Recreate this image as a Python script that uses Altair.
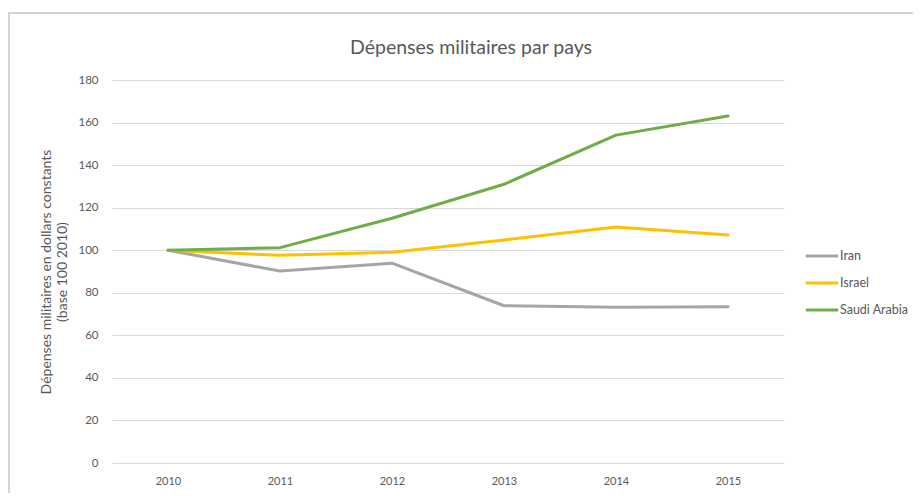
import altair as alt
import pandas as pd

years = ["2010", "2011", "2012", "2013", "2014", "2015"]
iran = [100, 90.2, 93.9, 73.9, 73.2, 73.4]
israel = [100, 97.6, 99.0, 104.8, 110.9, 107.1]
saudi = [100, 101.2, 115.0, 131.0, 154.1, 163.1]
countries = ["Iran", "Israel", "Saudi Arabia"]
colors = ["#a5a5a5", "#ffc000", "#70ad47"]
y_ticks = [0, 20, 40, 60, 80, 100, 120, 140, 160, 180]

rows = []
for name, vals in zip(countries, [iran, israel, saudi]):
    for yr, v in zip(years, vals):
        rows.append({"Année": yr, "Pays": name, "Valeur": v})
df = pd.DataFrame(rows)

FONT = "Lato"
TXT = "#595959"

lines = alt.Chart(df).mark_line(strokeWidth=3, strokeCap="round", strokeJoin="round").encode(
    x=alt.X("Année:O", sort=years, scale=alt.Scale(type="point", padding=0.5),
            axis=alt.Axis(title=None, labelAngle=0, ticks=False, domain=False,
                          labelPadding=12, labelFontSize=11, labelColor=TXT, labelFont=FONT)),
    y=alt.Y("Valeur:Q", scale=alt.Scale(domain=[0, 180], nice=False),
            axis=alt.Axis(values=y_ticks, title=["Dépenses militaires en dollars constants", "(base 100 2010)"],
                          titleFont=FONT, titleFontSize=14, titleFontWeight="normal", titleColor=TXT,
                          titlePadding=8, titleLineHeight=16,
                          ticks=False, domain=False, labelPadding=14, labelFontSize=11.5,
                          labelColor=TXT, labelFont=FONT, grid=True, gridColor="#d9d9d9", gridWidth=1)),
    color=alt.Color("Pays:N", scale=alt.Scale(domain=countries, range=colors),
                    legend=alt.Legend(title=None, orient="none", legendX=692, legendY=158,
                                      symbolType="stroke", symbolStrokeWidth=3, symbolSize=1050,
                                      labelFont=FONT, labelFontSize=12.5, labelColor=TXT,
                                      labelOffset=0, rowPadding=2)),
)

frame = alt.Chart(pd.DataFrame({"a": [0]})).mark_rect(
    fill=None, stroke="#c8c8c8", strokeWidth=1.5, clip=False
).encode(x=alt.value(-103), x2=alt.value(840), y=alt.value(-67), y2=alt.value(460))

chart = alt.layer(frame, lines).properties(
    width=672, height=383,
    autosize=alt.AutoSizeParams(type="none"),
    padding={"left": 104, "top": 72, "right": 129, "bottom": 30},
    title=alt.Title("Dépenses militaires par pays", font=FONT, fontSize=19.5, fontWeight="normal",
                    color=TXT, anchor="middle", dx=23, offset=-46),
).configure_view(stroke=None)

chart.save("out.html", embed_options={"renderer": "svg", "actions": False})
